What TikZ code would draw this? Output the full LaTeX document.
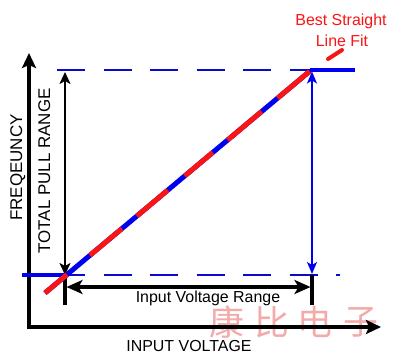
\documentclass[tikz,border=0pt]{standalone}
\usepackage{fontspec}
\setmainfont{Liberation Sans}
\newfontfamily\cjk{Noto Sans CJK SC}
\usetikzlibrary{arrows.meta}
\definecolor{mblue}{RGB}{0,0,240}
\definecolor{dblue}{RGB}{10,10,205}
\definecolor{mred}{RGB}{250,20,20}
\definecolor{wmcol}{RGB}{242,170,170}
\begin{document}
\begin{tikzpicture}[x=1bp,y=-1bp,
  axisline/.style={line width=4bp, line join=miter,
    {Stealth[length=15bp,width=14bp,inset=3bp]}-{Stealth[length=15bp,width=14bp,inset=3bp]}},
  dashline/.style={dblue, line width=2bp, dash pattern=on 28bp off 18.5bp},
  thickblue/.style={mblue, line width=4.5bp},
  pullarrow/.style={line width=2bp,
    {Stealth[length=12bp,width=11bp,inset=3bp]}-{Stealth[length=12bp,width=11bp,inset=3bp]}},
  rangearrow/.style={line width=3.5bp,
    {Stealth[length=16bp,width=14bp,inset=4bp]}-{Stealth[length=16bp,width=14bp,inset=4bp]}},
  tickline/.style={line width=3.5bp},
  bluearrow/.style={mblue, line width=1.5bp,
    {Stealth[length=12bp,width=10bp,inset=3bp]}-{Stealth[length=12bp,width=10bp,inset=3bp]}},
  lbl/.style={font=\fontsize{16}{19}\selectfont, inner sep=0pt},
  lblv/.style={font=\fontsize{17}{20}\selectfont, inner sep=0pt, rotate=90, anchor=base},
  wmtext/.style={text=wmcol, font=\cjk\fontsize{35}{38}\selectfont, inner sep=0pt}
]
\useasboundingbox (0,0) rectangle (394,359);
\fill[white] (0,0) rectangle (394,359);

% watermark
\node[wmtext] (w1) at (227,322) {康};
\node[wmtext] (w2) at (272,322) {比};
\node[wmtext] (w3) at (315,322) {电};
\node[wmtext] (w4) at (361,322) {子};

% coordinates
\coordinate (O) at (29,327);
\coordinate (ytip) at (29,53);
\coordinate (xtip) at (381,327);
\coordinate (tl) at (57,70);
\coordinate (tr) at (312,70);
\coordinate (ts) at (310,70);
\coordinate (te) at (355,70);
\coordinate (bs) at (22,275);
\coordinate (bm) at (65,275);
\coordinate (bl) at (57,275);
\coordinate (br) at (340,275);
\coordinate (pt) at (65,72);
\coordinate (pb) at (65,275);
\coordinate (lt1) at (65,277);
\coordinate (lt2) at (65,305);
\coordinate (rt1) at (312,275);
\coordinate (rt2) at (312,305);
\coordinate (ra) at (66.5,287);
\coordinate (rb) at (310.5,287);
\coordinate (ba) at (312,71.5);
\coordinate (bb) at (312,274);
\coordinate (f1) at (45,293);
\coordinate (f2) at (310,71);
\coordinate (p1) at (328,59);
\coordinate (p2) at (342,50);

% axes
\draw[axisline] (ytip) -- (O) -- (xtip);

% reference lines
\draw[dashline] (tl) -- (tr);
\draw[dashline] (bl) -- (br);
\draw[thickblue] (ts) -- (te);
\draw[thickblue] (bs) -- (bm);

% total pull range
\draw[pullarrow] (pt) -- (pb);
\draw[tickline] (lt1) -- (lt2);
\draw[tickline] (rt1) -- (rt2);
\draw[rangearrow] (ra) -- (rb);

% blue arrow
\draw[bluearrow] (ba) -- (bb);

% best fit line
\draw[mblue, line width=5bp] (f1) -- (f2);
\draw[mred, line width=5bp, dash pattern=on 28.6bp off 30bp on 41.7bp off 19.5bp on 40.4bp off 22.1bp on 36.5bp off 19.5bp on 44.3bp off 20.8bp on 41.7bp off 20bp] (f1) -- (f2);
\draw[mred, line width=4bp, line cap=round] (p1) -- (p2);

% labels
\node[lbl, text=mred, anchor=base] (best) at (341,25) {Best Straight};
\node[lbl, text=mred, anchor=base] (fit) at (342,46.5) {Line Fit};
\node[lbl, anchor=base] (ivr) at (208,302) {Input Voltage Range};
\node[lbl, anchor=base] (iv) at (189,351) {INPUT VOLTAGE};
\node[lblv] (freq) at (22,167.5) {FREQEUNCY};
\node[lblv] (tpr) at (50,171) {TOTAL PULL RANGE};
\end{tikzpicture}
\end{document}
